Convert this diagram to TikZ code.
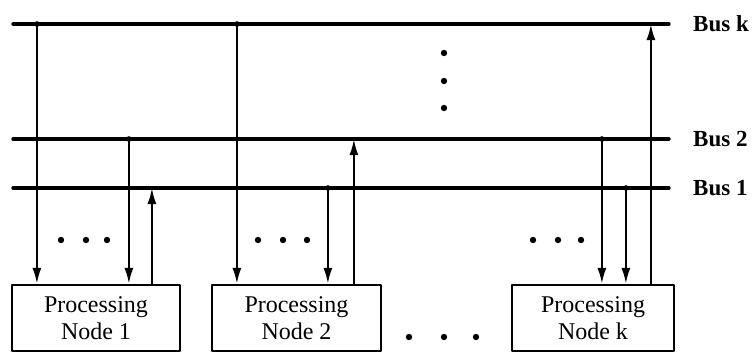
\documentclass[tikz,border=0pt]{standalone}
\usepackage{fontspec}
\setmainfont{Liberation Serif}
\usetikzlibrary{arrows.meta}

\begin{document}
\begin{tikzpicture}[x=1pt,y=-1pt,line cap=round,line join=round,
    bus/.style={line width=3.4pt},
    wire/.style={line width=2.2pt},
    down/.style={wire,-{Latex[length=16pt,width=9pt]}},
    pbox/.style={draw,line width=2.2pt,minimum height=66pt,align=center,
        inner sep=0pt,font=\fontsize{24}{27}\selectfont},
    buslabel/.style={anchor=west,inner sep=0pt,font=\fontsize{23}{26}\selectfont\bfseries},
    dot/.style={fill=black}]
    \useasboundingbox (0,0) rectangle (752,354);

    % Buses
    \coordinate (busk) at (13,24);
    \coordinate (bus2) at (13,139);
    \coordinate (bus1) at (13,188);
    \node[buslabel] (lbk) at (693,24) {Bus k};
    \node[buslabel] (lb2) at (693,139) {Bus 2};
    \node[buslabel] (lb1) at (693,188) {Bus 1};
    \draw[bus] (busk) -- ([xshift=-24pt]lbk.west);
    \draw[bus] (bus2) -- ([xshift=-24pt]lb2.west);
    \draw[bus] (bus1) -- ([xshift=-24pt]lb1.west);

    % Processing nodes
    \node[pbox,minimum width=168pt] (n1) at (96,318) {Processing\\Node 1};
    \node[pbox,minimum width=169pt] (n2) at (296.5,318) {Processing\\Node 2};
    \node[pbox,minimum width=162pt] (nk) at (593,318) {Processing\\Node k};

    % Tap points on the box tops
    \coordinate (t11) at ([xshift=26pt]n1.north west);
    \coordinate (t12) at ([xshift=118pt]n1.north west);
    \coordinate (t13) at ([xshift=141pt]n1.north west);
    \coordinate (t21) at ([xshift=26pt]n2.north west);
    \coordinate (t22) at ([xshift=117pt]n2.north west);
    \coordinate (t23) at ([xshift=143pt]n2.north west);
    \coordinate (tk1) at ([xshift=91pt]nk.north west);
    \coordinate (tk2) at ([xshift=115pt]nk.north west);
    \coordinate (tk3) at ([xshift=140pt]nk.north west);

    % Node 1
    \draw[down] (busk -| t11) -- (t11);
    \draw[down] (bus2 -| t12) -- (t12);
    \draw[down] (t13) -- (bus1 -| t13);
    % Node 2
    \draw[down] (busk -| t21) -- (t21);
    \draw[down] (bus1 -| t22) -- (t22);
    \draw[down] (t23) -- (bus2 -| t23);
    % Node k
    \draw[down] (bus2 -| tk1) -- (tk1);
    \draw[down] (bus1 -| tk2) -- (tk2);
    \draw[down] (tk3) -- (busk -| tk3);

    % Junctions
    \foreach \p in {busk -| t11,bus2 -| t12,busk -| t21,bus1 -| t22,bus2 -| tk1,bus1 -| tk2}
        \fill (\p) circle (2.8pt);

    % Dots
    \foreach \y in {53,81,108}
        \fill[dot] (444,\y) circle (3.2pt);
    \foreach \x in {61,86,107,258,283,307,533,558,581}
        \fill[dot] (\x,240) circle (3.2pt);
    \foreach \x in {409,444,476}
        \fill[dot] (\x,337) circle (3.2pt);
\end{tikzpicture}
\end{document}
